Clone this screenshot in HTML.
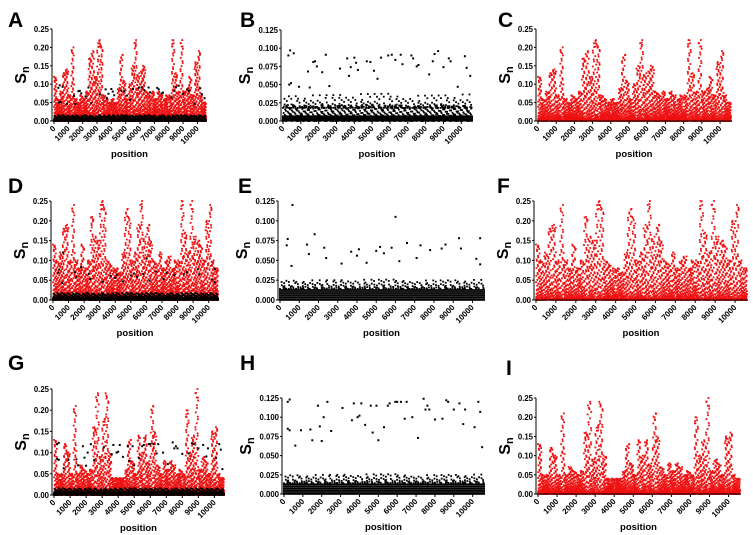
<!DOCTYPE html>
<html><head><meta charset="utf-8"><style>
html,body{margin:0;padding:0;background:#fff;}
svg{display:block;font-family:"Liberation Sans",Arial,sans-serif;}
</style></head><body>
<svg id="fig" width="753" height="535" viewBox="0 0 753 535" xmlns="http://www.w3.org/2000/svg"></svg>
<script>
// x categories: bin start positions (every 200 nt)
const binStarts = [0,200,400,600,800,1000,1200,1400,1600,1800,2000,2200,2400,2600,2800,3000,3200,3400,3600,3800,4000,4200,4400,4600,4800,5000,5200,5400,5600,5800,6000,6200,6400,6600,6800,7000,7200,7400,7600,7800,8000,8200,8400,8600,8800,9000,9200,9400,9600,9800,10000,10200,10400];
// red series envelope (max Sn per bin)
const envAC = [0.12,0.06,0.08,0.13,0.14,0.07,0.20,0.06,0.05,0.07,0.06,0.08,0.17,0.19,0.12,0.22,0.21,0.07,0.06,0.05,0.06,0.05,0.09,0.18,0.11,0.06,0.10,0.15,0.22,0.13,0.14,0.15,0.08,0.07,0.08,0.06,0.08,0.07,0.06,0.07,0.07,0.22,0.13,0.08,0.22,0.08,0.09,0.12,0.07,0.16,0.19,0.07,0.05];
const envDF = [0.14,0.10,0.12,0.18,0.19,0.10,0.24,0.10,0.08,0.14,0.08,0.10,0.21,0.16,0.15,0.25,0.24,0.10,0.09,0.08,0.08,0.07,0.12,0.23,0.21,0.10,0.12,0.19,0.25,0.16,0.19,0.15,0.10,0.09,0.12,0.08,0.10,0.11,0.08,0.10,0.10,0.25,0.17,0.12,0.25,0.16,0.15,0.14,0.10,0.20,0.24,0.10,0.08];
const envGI = [0.13,0.05,0.05,0.12,0.10,0.05,0.21,0.05,0.07,0.06,0.05,0.06,0.16,0.24,0.09,0.18,0.24,0.10,0.04,0.04,0.04,0.04,0.06,0.13,0.08,0.05,0.14,0.10,0.14,0.08,0.21,0.15,0.07,0.05,0.08,0.06,0.08,0.07,0.05,0.06,0.05,0.20,0.10,0.14,0.25,0.06,0.09,0.08,0.05,0.15,0.16,0.05,0.04];
// black outlier points: positions and Sn values
const outBX = [300,400,600,350,450,900,1400,1500,1700,1800,1900,2200,2400,2600,3200,3600,3700,3800,4000,4100,4200,4700,4900,5100,5300,5500,5900,6100,6300,6600,6700,7200,7300,7500,7600,8200,8400,8500,8700,9000,9300,9400,9800,10200,10300,10500];
const outBY = [0.090,0.097,0.093,0.050,0.052,0.047,0.068,0.046,0.081,0.082,0.075,0.067,0.091,0.048,0.072,0.086,0.062,0.074,0.087,0.080,0.070,0.082,0.081,0.069,0.058,0.087,0.090,0.091,0.084,0.091,0.078,0.090,0.086,0.075,0.077,0.064,0.082,0.092,0.096,0.074,0.086,0.082,0.047,0.089,0.073,0.062];
const outEX = [400,350,650,600,1400,1500,1800,2300,2400,3200,3700,4000,4100,4500,5000,5200,5400,5800,6000,6200,6600,7100,7300,7800,8400,8600,9300,9400,10200,10400,10400];
const outEY = [0.077,0.069,0.120,0.043,0.070,0.058,0.083,0.066,0.053,0.046,0.061,0.056,0.064,0.047,0.062,0.067,0.059,0.066,0.105,0.049,0.072,0.053,0.069,0.063,0.065,0.070,0.078,0.065,0.052,0.078,0.045];
const outHX = [200,300,200,300,600,900,1400,1500,1800,1900,2000,2100,2300,2500,3100,3600,3700,3900,4000,4100,4300,4600,4700,4900,5000,5300,5500,5600,5900,6000,6200,6400,6500,6800,7100,7400,7500,7600,7700,8000,8400,8600,8700,9000,9300,9500,9600,10100,10300,10400,10500];
const outHY = [0.120,0.123,0.085,0.083,0.063,0.083,0.084,0.070,0.115,0.088,0.069,0.100,0.120,0.082,0.112,0.096,0.118,0.100,0.102,0.118,0.090,0.115,0.080,0.115,0.070,0.087,0.115,0.118,0.120,0.120,0.120,0.098,0.120,0.100,0.073,0.124,0.110,0.115,0.110,0.097,0.098,0.122,0.120,0.110,0.118,0.091,0.110,0.087,0.120,0.107,0.061];
const xTicks = [0,1000,2000,3000,4000,5000,6000,7000,8000,9000,10000];
const yTicks25 = [0,0.05,0.10,0.15,0.20,0.25];
const yTicks125 = [0,0.025,0.05,0.075,0.1,0.125];

const NS="http://www.w3.org/2000/svg";
const svg=document.getElementById('fig');
function mk(tag,attrs,parent){const e=document.createElementNS(NS,tag);for(const k in attrs)e.setAttribute(k,attrs[k]);(parent||svg).appendChild(e);return e;}

const panels=[
 {L:'A',lx:8,ly:27,x0:52,x1:207,top:29,bot:121,ymax:0.25,yt:yTicks25,dec:2,red:envAC,blackBand:0.016,ox:outBX,oy:outBY},
 {L:'B',lx:240,ly:27,x0:281,x1:473,top:30,bot:121,ymax:0.125,yt:yTicks125,dec:3,red:null,blackBand:0.022,ox:outBX,oy:outBY,mid:true},
 {L:'C',lx:498,ly:27,x0:536,x1:732,top:29,bot:121,ymax:0.25,yt:yTicks25,dec:2,red:envAC},
 {L:'D',lx:8,ly:193,x0:51,x1:219,top:201,bot:300,ymax:0.25,yt:yTicks25,dec:2,red:envDF,blackBand:0.018,ox:outEX,oy:outEY},
 {L:'E',lx:238,ly:193,x0:278,x1:485,top:201,bot:300,ymax:0.125,yt:yTicks125,dec:3,red:null,stripes:true,ox:outEX,oy:outEY,mid:true},
 {L:'F',lx:497,ly:193,x0:534,x1:748,top:201,bot:300,ymax:0.25,yt:yTicks25,dec:2,red:envDF},
 {L:'G',lx:8,ly:370,x0:52,x1:225,top:389,bot:495,ymax:0.25,yt:yTicks25,dec:2,red:envGI,blackBand:0.016,ox:outHX,oy:outHY},
 {L:'H',lx:240,ly:370,x0:282,x1:485,top:398,bot:494,ymax:0.125,yt:yTicks125,dec:3,red:null,stripes:true,ox:outHX,oy:outHY,mid:true},
 {L:'I',lx:506,ly:375,x0:536,x1:741,top:398,bot:494,ymax:0.25,yt:yTicks25,dec:2,red:envGI}
];

panels.forEach(p=>{
  const g=mk('g',{});
  
  
  const xs=v=>p.x0+2+(v/10600)*(p.x1-p.x0-3);
  const ys=v=>p.bot-(Math.min(v,p.ymax)/p.ymax)*(p.bot-p.top);
  const lab=mk('text',{x:p.lx,y:p.ly,'font-size':21,'font-weight':'bold',fill:'#000'},g);lab.textContent=p.L;
  
  
  const marks=mk('g',{},g);
  
  
  const binW=200;
  if(p.red){
    p.red.forEach((v,i)=>{
      for(let k=0;k<60;k++){
        const u=k<3?1-k*0.04:((k*0.618034+i*0.377)%1);
        const f=k<3?u:Math.pow(u,2.2);
        const xv=binStarts[i]+((k*0.41+i*0.13)%1)*binW;
        mk('rect',{x:xs(xv)-0.9,y:ys(v*f)-0.9,width:1.8,height:1.8,fill:'#ee1111'},marks);
      }
    });
  }
  if(p.blackBand){
    binStarts.forEach((b,i)=>{
      for(let k=0;k<14;k++){
        const u=(k*0.618034+i*0.29)%1;
        const xv=b+((k*0.53+i*0.21)%1)*binW;
        mk('rect',{x:xs(xv)-0.9,y:ys(p.blackBand*u*u)-0.9,width:1.8,height:1.8,fill:'#000'},marks);
      }
    });
    mk('rect',{x:p.x0+1,y:ys(p.blackBand*0.35),width:p.x1-p.x0-1,height:p.bot-ys(p.blackBand*0.35),fill:'#000'},marks);
  }
  if(p.stripes){
    for(let s=0;s<=5;s++){
      const yv=s*0.0025;
      mk('rect',{x:p.x0+1,y:ys(yv)-1,width:p.x1-p.x0-1,height:1.8,fill:'#000'},marks);
    }
    binStarts.forEach((b,i)=>{
      for(let k=0;k<5;k++){
        const u=(k*0.618034+i*0.31)%1;
        const xv=b+((k*0.47+i*0.19)%1)*binW;
        mk('rect',{x:xs(xv)-0.9,y:ys(0.014+0.012*u*u)-0.9,width:1.8,height:1.8,fill:'#000'},marks);
      }
    });
  }
  if(p.mid && !p.stripes){
    binStarts.forEach((b,i)=>{
      for(let k=0;k<5;k++){
        const u=(k*0.618034+i*0.31)%1;
        const xv=b+((k*0.47+i*0.19)%1)*binW;
        mk('rect',{x:xs(xv)-0.9,y:ys(0.018+0.02*u*u*u)-0.9,width:1.8,height:1.8,fill:'#000'},marks);
      }
    });
  }
  if(p.ox){
    p.ox.forEach((xv,i)=>{
      mk('rect',{x:xs(xv)-1,y:ys(p.oy[i])-1,width:2,height:2,fill:'#000'},marks);
    });
  }
  mk('line',{x1:p.x0,y1:p.top,x2:p.x0,y2:p.bot,stroke:'#000','stroke-width':1},g);
  mk('line',{x1:p.x0,y1:p.bot,x2:p.x1,y2:p.bot,stroke:'#000','stroke-width':1},g);
  p.yt.forEach(t=>{
    const y=ys(t);
    mk('line',{x1:p.x0-2,y1:y,x2:p.x0,y2:y,stroke:'#000'},g);
    const tx=mk('text',{x:p.x0-3,y:y+3,'font-size':7.8,'font-weight':'bold','text-anchor':'end'},g);
    tx.textContent=t.toFixed(p.dec);
    
    
  });
  xTicks.forEach(t=>{
    const x=xs(t);
    mk('line',{x1:x,y1:p.bot,x2:x,y2:p.bot+3,stroke:'#000'},g);
    const tx=mk('text',{x:x+2,y:p.bot+8,'font-size':8,'font-weight':'bold','text-anchor':'end',transform:`rotate(-45 ${x+2} ${p.bot+8})`},g);
    tx.textContent=t;
    
    
  });
  const cx=(p.x0+p.x1)/2;
  const xl=mk('text',{x:cx,y:p.bot+36,'font-size':9.5,'font-weight':'bold','text-anchor':'middle'},g);
  xl.textContent='position';
  
  
  const cy=(p.top+p.bot)/2;
  const ax=p.dec===2?p.x0-26:p.x0-31;
  const yl=mk('text',{x:ax,y:cy,'font-size':16,'font-weight':'bold','text-anchor':'middle',transform:`rotate(-90 ${ax} ${cy})`},g);
  yl.innerHTML='S<tspan font-size="11" dy="3">n</tspan>';
  
  
});
</script>
</body></html>
